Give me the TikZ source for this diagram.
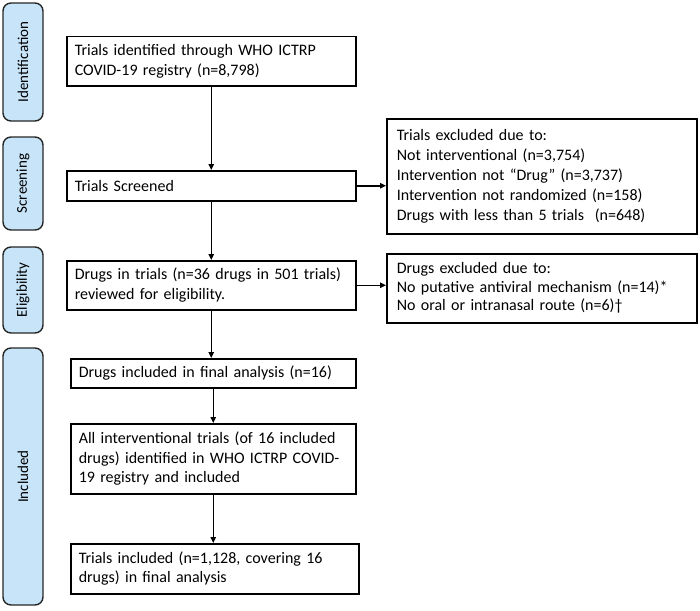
\documentclass[tikz,border=0pt]{standalone}
\usepackage{fontspec}
\setmainfont{Carlito}
\usetikzlibrary{arrows.meta}

\definecolor{stageblue}{RGB}{200,228,249}

\tikzset{
  >={Triangle[length=6pt,width=5.5pt]},
  stagebox/.style={draw=black!85, line width=1.4pt, fill=stageblue, rounded corners=8pt,
    rotate=90, minimum height=40pt, inner sep=0pt, font=\fontsize{15}{18}\selectfont},
  flowbox/.style={draw, line width=1.5pt, anchor=north west, align=left,
    inner xsep=8pt, inner ysep=0pt, font=\fontsize{16}{19.5}\selectfont},
  exclbox/.style={flowbox, inner xsep=10pt, text width=290pt, font=\fontsize{16}{20}\selectfont},
  flow/.style={->, line width=1.5pt}
}

\begin{document}
\begin{tikzpicture}[x=1pt, y=-1pt]
        \useasboundingbox (0,0) rectangle (700,610);

        % Stage labels on the left
        \node[stagebox, minimum width=118pt] (sident) at (23,62) {Identification};
        \node[stagebox, minimum width=93pt] (sscreen) at (23,183.5) {Screening};
        \node[stagebox, minimum width=86pt] (selig) at (23,290) {Eligibility};
        \node[stagebox, minimum width=257pt] (sincl) at (23,476.5) {Included};

        % Identification
        \node[flowbox, text width=273pt, minimum height=49pt] (ident) at (66,36)
            {Trials identified through WHO ICTRP\\COVID-19 registry (n=8,798)};

        % Screening
        \node[flowbox, text width=273pt, minimum height=30pt] (screen) at (66,170)
            {Trials Screened};
        \node[exclbox, minimum height=115pt] (exclone) at (386,118)
            {Trials excluded due to:\\Not interventional (n=3,754)\\Intervention not “Drug” (n=3,737)\\Intervention not randomized (n=158)\\Drugs with less than 5 trials\ \ (n=648)};

        % Eligibility
        \node[flowbox, text width=273pt, minimum height=49pt] (elig) at (66,260)
            {Drugs in trials (n=36 drugs in 501 trials)\\reviewed for eligibility.};
        \node[exclbox, minimum height=69pt, font=\fontsize{16}{18.5}\selectfont] (excltwo) at (386,253)
            {Drugs excluded due to:\\No putative antiviral mechanism (n=14)*\\No oral or intranasal route (n=6)†};

        % Included
        \node[flowbox, text width=269pt, minimum height=29pt] (final) at (70,358)
            {Drugs included in final analysis (n=16)};
        \node[flowbox, text width=269pt, minimum height=70pt] (allint) at (70,423)
            {All interventional trials (of 16 included\\drugs) identified in WHO ICTRP COVID-\\19 registry and included};
        \node[flowbox, text width=272pt, minimum height=50pt] (incl) at (70,543)
            {Trials included (n=1,128, covering 16\\drugs) in final analysis};

        % Arrows down the main column
        \draw[flow] (ident.south) -- (screen.north);
        \draw[flow] (screen.south) -- (elig.north);
        \draw[flow] (elig.south) -- (elig.south |- final.north);
        \draw[flow] (final.south) -- (final.south |- allint.north);
        \draw[flow] (allint.south) -- (allint.south |- incl.north);

        % Exclusion arrows
        \draw[flow] (screen.east) -- (screen.east -| exclone.west);
        \draw[flow] (elig.east) -- (elig.east -| excltwo.west);
    \end{tikzpicture}
\end{document}
